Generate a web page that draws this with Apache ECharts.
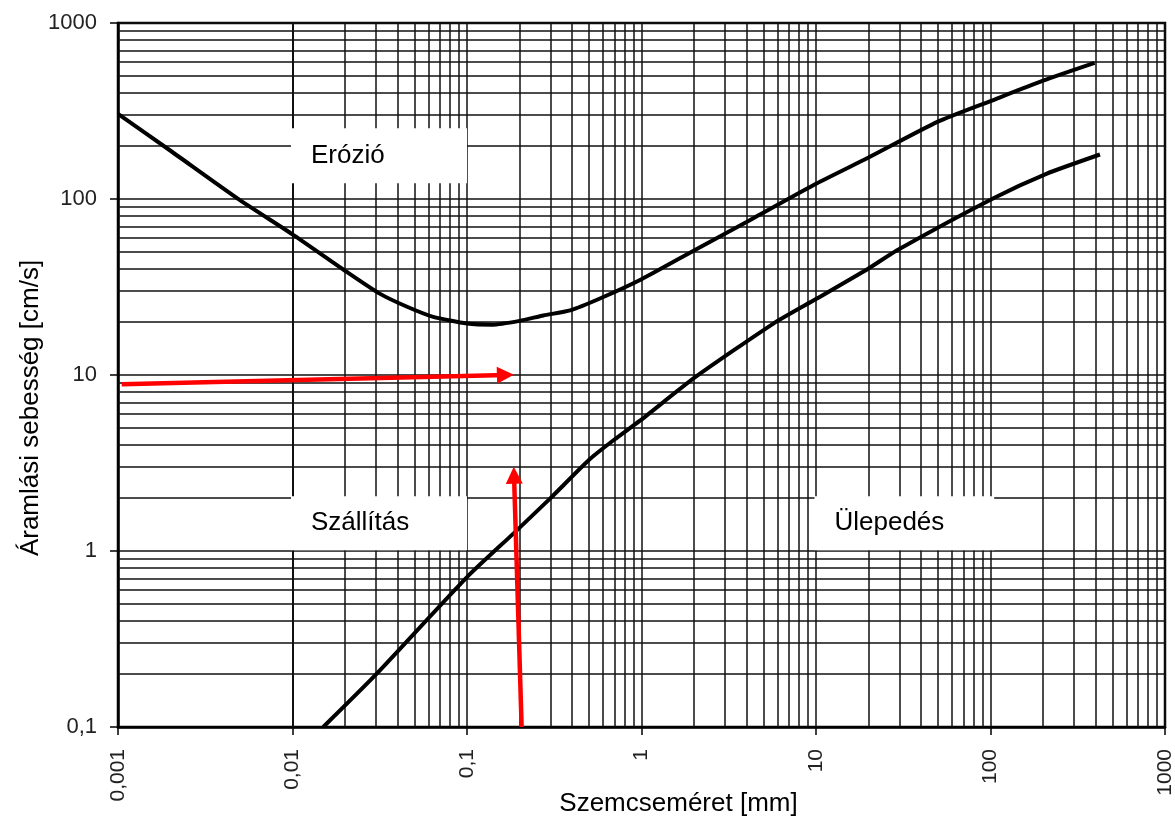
<!DOCTYPE html>
<html>
<head>
<meta charset="utf-8">
<script src="https://cdn.jsdelivr.net/npm/echarts@6/dist/echarts.min.js"></script>
<style>
  html, body { margin: 0; background: #fff; }
  #chart { width: 1175px; height: 816px; }
</style>
</head>
<body>
<div id="chart"></div>
<script>
// decades on both log axes, and the 2..9 steps used for the fine grid
const xDecades = [0.001, 0.01, 0.1, 1, 10, 100];
const yDecades = [0.1, 1, 10, 100];
const minorSteps = [2, 3, 4, 5, 6, 7, 8, 9];

// grain size [mm] -> flow velocity [cm/s]
const erosion = [
  [0.001, 305], [0.002, 188], [0.005, 98.5], [0.01, 63],
  [0.0205, 38.5], [0.0316, 29], [0.045, 24.5], [0.064, 21.4], [0.1, 19.6],
  [0.14, 19.3], [0.2, 20.3], [0.274, 21.8], [0.39, 23.3], [0.578, 27.2], [1, 35],
  [2, 51], [4, 74], [10, 122], [20, 172], [50, 275], [100, 360], [200, 470], [395, 593]
];
const deposition = [
  [0.015, 0.1], [0.0304, 0.201], [0.1, 0.711], [0.185, 1.26], [0.3, 1.99],
  [0.51, 3.35], [0.7, 4.3], [0.98, 5.5], [2.04, 9.75], [5.7, 19.6], [10, 27],
  [20, 40.3], [29, 51], [104, 101], [209, 139], [424, 179]
];

// red arrows: [start, end of shaft]
const arrowRight = [[0.00105, 8.85], [0.166, 10.0]];
const arrowUp = [[0.2056, 0.1], [0.186, 2.69]];

// white label boxes: [name, corner, opposite corner]
const zones = [
  ['Erózió', [0.0098, 252], [0.1, 123]],
  ['Szállítás', [0.0098, 2.05], [0.1, 1.01]],
  ['Ülepedés', [9.8, 2.05], [105, 1.01]]
];

const font = 'Liberation Sans, Arial, sans-serif';

function fmt(v) {
  return String(Number(v.toPrecision(6))).replace('.', ',');
}

const xMinor = [];
xDecades.forEach((d) => minorSteps.forEach((m) => xMinor.push(d * m)));
const yMinor = [];
yDecades.forEach((d) => minorSteps.forEach((m) => yMinor.push(d * m)));

const chart = echarts.init(document.getElementById('chart'));

const gridLine = { color: '#111', width: 1.5, type: 'solid' };

const axisCommon = {
  type: 'log',
  logBase: 10,
  nameMoveOverlap: false,
  axisLine: { lineStyle: { color: '#000', width: 2.5 } },
  axisTick: { length: 8, lineStyle: { color: '#000', width: 1.5 } },
  splitLine: { show: true, lineStyle: gridLine },
  nameTextStyle: { fontFamily: font, fontSize: 26, color: '#000' }
};

chart.setOption({
  animation: false,
  backgroundColor: '#fff',
  grid: {
    left: 118, right: 10, top: 23, bottom: 89,
    containLabel: false, outerBoundsMode: 'none',
    show: true, borderColor: '#000', borderWidth: 2.5
  },
  xAxis: Object.assign({}, axisCommon, {
    min: 0.001,
    max: 1000,
    splitNumber: 6,
    name: 'Szemcseméret [mm]',
    nameLocation: 'middle',
    nameGap: 64,
    nameTextStyle: Object.assign({}, axisCommon.nameTextStyle, { padding: [0, 0, 0, 74] }),
    axisLabel: {
      rotate: 90, margin: 22, fontSize: 21, color: '#222', fontFamily: font,
      showMinLabel: true, showMaxLabel: true, formatter: fmt
    }
  }),
  yAxis: Object.assign({}, axisCommon, {
    min: 0.1,
    max: 1000,
    splitNumber: 4,
    name: 'Áramlási sebesség [cm/s]',
    nameLocation: 'middle',
    nameGap: 74,
    nameTextStyle: Object.assign({}, axisCommon.nameTextStyle, { padding: [0, 66, 0, 0] }),
    axisLabel: {
      margin: 21, fontSize: 22, color: '#222', fontFamily: font,
      showMinLabel: true, showMaxLabel: true, formatter: fmt
    }
  }),
  series: [
    {
      // fine grid at 2..9 of every decade
      type: 'line',
      data: [],
      silent: true,
      markLine: {
        z: 1,
        silent: true,
        symbol: ['none', 'none'],
        label: { show: false },
        lineStyle: gridLine,
        emphasis: { disabled: true },
        data: xMinor.map((v) => ({ xAxis: v })).concat(yMinor.map((v) => ({ yAxis: v })))
      }
    },
    {
      type: 'line',
      data: [],
      silent: true,
      markArea: {
        z: 2,
        silent: true,
        itemStyle: { color: '#fff' },
        label: {
          show: true, position: 'insideLeft', distance: 20,
          fontFamily: font, fontSize: 26, color: '#000'
        },
        emphasis: { disabled: true },
        data: zones.map((z) => [{ name: z[0], coord: z[1] }, { coord: z[2] }])
      }
    },
    {
      name: 'Erózió',
      type: 'line',
      z: 3,
      data: erosion,
      smooth: 0.2,
      showSymbol: false,
      lineStyle: { color: '#000', width: 4 }
    },
    {
      name: 'Ülepedés',
      type: 'line',
      z: 3,
      data: deposition,
      smooth: 0.2,
      showSymbol: false,
      lineStyle: { color: '#000', width: 4 }
    },
    {
      type: 'line',
      data: [],
      silent: true,
      markLine: {
        z: 4,
        silent: true,
        symbol: ['none', 'triangle'],
        symbolSize: 17,
        label: { show: false },
        lineStyle: { color: '#ff0000', width: 4.5, type: 'solid' },
        itemStyle: { color: '#ff0000' },
        emphasis: { disabled: true },
        data: [
          [{ coord: arrowRight[0] }, { coord: arrowRight[1] }],
          [{ coord: arrowUp[0] }, { coord: arrowUp[1] }]
        ]
      }
    }
  ]
});

window.addEventListener('resize', () => chart.resize());
</script>
</body>
</html>
